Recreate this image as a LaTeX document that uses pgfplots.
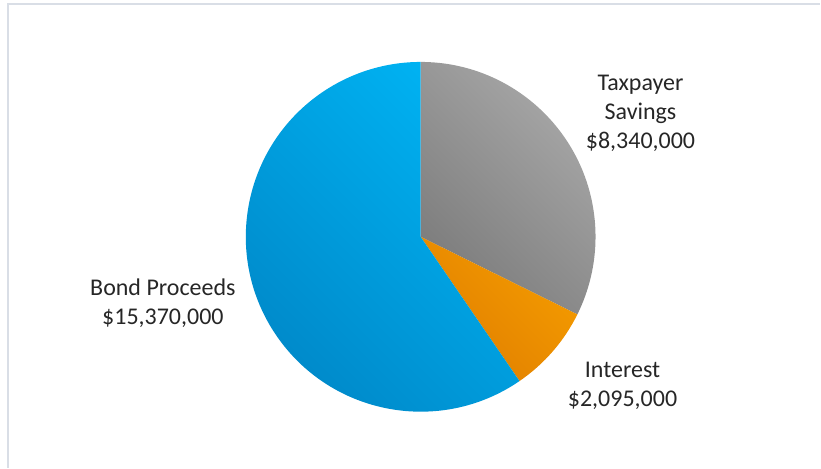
\documentclass[border=0pt]{standalone}
\usepackage{pgfplots}
\pgfplotsset{compat=1.18}
\usepackage{pgfplotstable}
\usepackage{fontspec}
\setmainfont{Carlito}
\pgfplotstableread{
name value
Taxpayer 8340000
Interest 2095000
Bond 15370000
}\piedata
\definecolor{bordercol}{HTML}{D9DEE6}
\definecolor{grayL}{HTML}{A8A8A8}
\definecolor{grayD}{HTML}{7C7C7C}
\definecolor{oraL}{HTML}{F59C00}
\definecolor{oraD}{HTML}{E07E00}
\definecolor{bluL}{HTML}{00B2F2}
\definecolor{bluD}{HTML}{0086C6}
\pgfplotstablegetelem{0}{value}\of\piedata \edef\va{\pgfplotsretval}
\pgfplotstablegetelem{1}{value}\of\piedata \edef\vb{\pgfplotsretval}
\pgfplotstablegetelem{2}{value}\of\piedata \edef\vc{\pgfplotsretval}
\edef\tot{\fpeval{\va+\vb+\vc}}
\edef\aA{90}
\edef\aB{\fpeval{90-360*\va/\tot}}
\edef\aC{\fpeval{\aB-360*\vb/\tot}}
\edef\aD{-270}
\begin{document}
\begin{tikzpicture}
\begin{axis}[scale only axis, width=821pt, height=468pt,
  xmin=0, xmax=821, ymin=0, ymax=468, hide axis, clip=false]
\path (axis cs:0,0) rectangle (axis cs:821,468);
\draw[bordercol, line width=1.3pt] (axis cs:8,0) -- (axis cs:8,464) -- (axis cs:821,464);
\shade[top color=grayL, bottom color=grayD, shading angle=-45]
  (axis cs:421,231) -- ++(\aA:175pt) arc[start angle=\aA, end angle=\aB, radius=175pt] -- cycle;
\shade[top color=oraL, bottom color=oraD, shading angle=-45]
  (axis cs:421,231) -- ++(\aB:175pt) arc[start angle=\aB, end angle=\aC, radius=175pt] -- cycle;
\shade[top color=bluL, bottom color=bluD, shading angle=-45]
  (axis cs:421,231) -- ++(\aC:175pt) arc[start angle=\aC, end angle=\aD, radius=175pt] -- cycle;
\node[align=center, font=\fontsize{24}{29}\selectfont, text=black!85] at (axis cs:641,355) {Taxpayer\\Savings\\\$8,340,000};
\node[align=center, font=\fontsize{24}{29}\selectfont, text=black!85] at (axis cs:163,165) {Bond Proceeds\\\$15,370,000};
\node[align=center, font=\fontsize{24}{29}\selectfont, text=black!85] at (axis cs:623,82) {Interest\\\$2,095,000};
\end{axis}
\end{tikzpicture}
\end{document}
